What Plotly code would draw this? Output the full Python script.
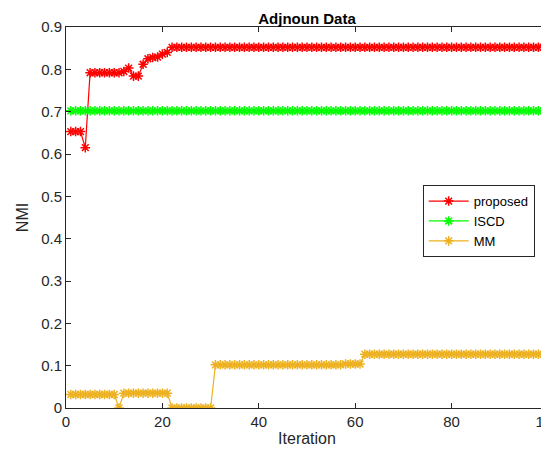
import plotly.graph_objects as go

iterations = list(range(1, 101))

proposed = ([0.653, 0.653, 0.653, 0.615] + [0.792] * 7 + [0.795, 0.803, 0.784, 0.784,
            0.812, 0.825, 0.828, 0.829, 0.836, 0.840] + [0.852] * 79)
iscd = [0.702] * 100
mm = ([0.032] * 10 + [0.0] + [0.035] * 10 + [0.0] * 9 + [0.102] * 27 + [0.104] * 4 + [0.127] * 39)

series = [
    ("proposed", proposed, "#FF0000"),
    ("ISCD", iscd, "#00FF00"),
    ("MM", mm, "#EDB120"),
]

x_ticks = [0, 20, 40, 60, 80, 100]
x_labels = ["0", "20", "40", "60", "80", "100"]
y_ticks = [0, 0.1, 0.2, 0.3, 0.4, 0.5, 0.6, 0.7, 0.8, 0.9]
y_labels = ["0", "0.1", "0.2", "0.3", "0.4", "0.5", "0.6", "0.7", "0.8", "0.9"]

fig = go.Figure()
for name, vals, col in series:
    fig.add_trace(go.Scatter(
        x=iterations, y=vals, name=name, mode="lines+markers",
        line=dict(color=col, width=1.2),
        marker=dict(symbol="asterisk-open", size=8, color=col,
                    line=dict(color=col, width=1.5)),
    ))

axis_common = dict(
    showline=True, linecolor="#262626", linewidth=1, mirror="ticks",
    ticks="inside", ticklen=5, tickcolor="#262626", tickwidth=1,
    showgrid=False, zeroline=False, ticklabeloverflow="allow", automargin=False,
    tickfont=dict(family="Liberation Sans, Arial", size=15, color="#262626"),
)

fig.update_layout(
    width=549, height=450,
    margin=dict(l=58, r=9, t=19, b=50),
    paper_bgcolor="white", plot_bgcolor="white",
    title=dict(text="<b>Adjnoun Data</b>", x=(58 + 540) / 2 / 549, xanchor="center",
               yref="container", y=0.988, yanchor="top",
               font=dict(family="Liberation Sans, Arial", size=15, color="black")),
    xaxis=dict(range=[0, 100], tickvals=x_ticks, ticktext=x_labels,
               title=dict(text="Iteration", standoff=3,
                          font=dict(family="Liberation Sans, Arial", size=16, color="#262626")),
               **axis_common),
    yaxis=dict(range=[0, 0.9], tickvals=y_ticks, ticktext=y_labels,
               title=dict(text="NMI", standoff=8,
                          font=dict(family="Liberation Sans, Arial", size=16, color="#262626")),
               **axis_common),
    legend=dict(x=0.74, y=0.585, xanchor="left", yanchor="top",
                bgcolor="white", bordercolor="#262626", borderwidth=1,
                font=dict(family="Liberation Sans, Arial", size=13, color="black"),
                tracegroupgap=0, itemwidth=40),
    showlegend=True,
)

fig.write_html("out.html")
